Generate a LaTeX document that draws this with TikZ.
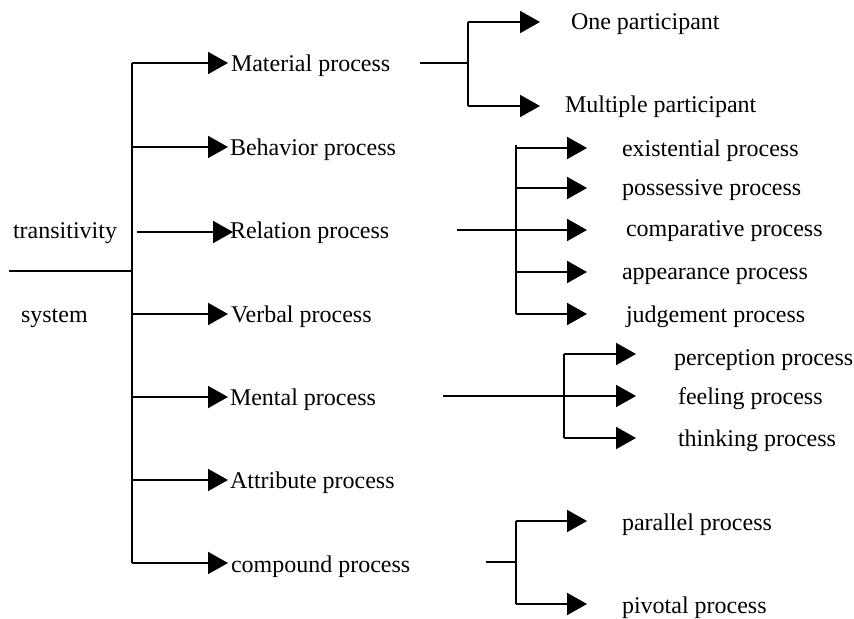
\documentclass[tikz,border=0pt]{standalone}
\usepackage{fontspec}
\setmainfont{Liberation Serif}
\usetikzlibrary{arrows.meta}
\begin{document}
\begin{tikzpicture}[x=0.5pt,y=-0.5pt,line width=1pt,
  arr/.style={-{Triangle[length=10pt,width=11pt]}},
  lbl/.style={anchor=base west,inner sep=0pt,font=\fontsize{12}{14}\selectfont}]
\useasboundingbox (0,0) rectangle (854,619);
% ---------- root ----------
\node[lbl] (trans) at (12,239) {transitivity};
\node[lbl] (sys) at (20,322) {system};
\coordinate (r0) at (9,271);
\coordinate (r1) at (132,271);
\draw (r0) -- (r1);
% trunk junctions
\coordinate (j1) at (132,63);
\coordinate (j2) at (132,147);
\coordinate (j3) at (137,232);
\coordinate (j4) at (132,314);
\coordinate (j5) at (132,397);
\coordinate (j6) at (132,480);
\coordinate (j7) at (132,563);
\draw (j1) -- (j7);
% tips
\coordinate (a1) at (228,63);
\coordinate (a2) at (228,147);
\coordinate (a3) at (233,232);
\coordinate (a4) at (228,314);
\coordinate (a5) at (228,397);
\coordinate (a6) at (228,480);
\coordinate (a7) at (228,563);
\foreach \i in {1,...,7} \draw[arr] (j\i) -- (a\i);
% labels
\node[lbl] (mat) at (230,72) {Material process};
\node[lbl] (beh) at (229,156) {Behavior process};
\node[lbl] (rel) at (229,239) {Relation process};
\node[lbl] (ver) at (230,322) {Verbal process};
\node[lbl] (men) at (229,405) {Mental process};
\node[lbl] (att) at (229,488) {Attribute process};
\node[lbl] (com) at (230,572) {compound process};
% ---------- material subtree ----------
\coordinate (ms) at (420,63);
\coordinate (mj) at (468,63);
\coordinate (mt) at (468,22);
\coordinate (mb) at (468,106);
\coordinate (mta) at (540,22);
\coordinate (mba) at (540,106);
\draw (ms) -- (mj);
\draw (mt) -- (mb);
\draw[arr] (mt) -- (mta);
\draw[arr] (mb) -- (mba);
\node[lbl] (one) at (570,30) {One participant};
\node[lbl] (mul) at (564,113) {Multiple participant};
% ---------- relation subtree ----------
\coordinate (rs) at (457,230);
\coordinate (rtop) at (516,145);
\coordinate (r1j) at (516,148);
\coordinate (r2j) at (516,188);
\coordinate (r3j) at (516,230);
\coordinate (r4j) at (516,272);
\coordinate (r5j) at (516,314);
\coordinate (r1a) at (587,148);
\coordinate (r2a) at (587,188);
\coordinate (r3a) at (587,230);
\coordinate (r4a) at (587,272);
\coordinate (r5a) at (587,314);
\draw (rs) -- (r3j);
\draw (rtop) -- (r5j);
\foreach \i in {1,...,5} \draw[arr] (r\i j) -- (r\i a);
\node[lbl] (exi) at (621,157) {existential process};
\node[lbl] (pos) at (621,196) {possessive process};
\node[lbl] (cmp) at (625,237) {comparative process};
\node[lbl] (app) at (621,280) {appearance process};
\node[lbl] (jud) at (625,322) {judgement process};
% ---------- mental subtree ----------
\coordinate (ns) at (443,396);
\coordinate (n1j) at (564,354);
\coordinate (n2j) at (564,396);
\coordinate (n3j) at (564,438);
\coordinate (n1a) at (636,354);
\coordinate (n2a) at (636,396);
\coordinate (n3a) at (636,438);
\draw (ns) -- (n2j);
\draw (n1j) -- (n3j);
\foreach \i in {1,2,3} \draw[arr] (n\i j) -- (n\i a);
\node[lbl] (per) at (673,365) {perception process};
\node[lbl] (fee) at (677,404) {feeling process};
\node[lbl] (thi) at (677,446) {thinking process};
% ---------- compound subtree ----------
\coordinate (cs) at (486,562);
\coordinate (cj) at (516,562);
\coordinate (c1j) at (516,521);
\coordinate (c2j) at (516,604);
\coordinate (c1a) at (587,521);
\coordinate (c2a) at (587,604);
\draw (cs) -- (cj);
\draw (c1j) -- (c2j);
\draw[arr] (c1j) -- (c1a);
\draw[arr] (c2j) -- (c2a);
\node[lbl] (par) at (621,530) {parallel process};
\node[lbl] (piv) at (621,613) {pivotal process};
\end{tikzpicture}
\end{document}
